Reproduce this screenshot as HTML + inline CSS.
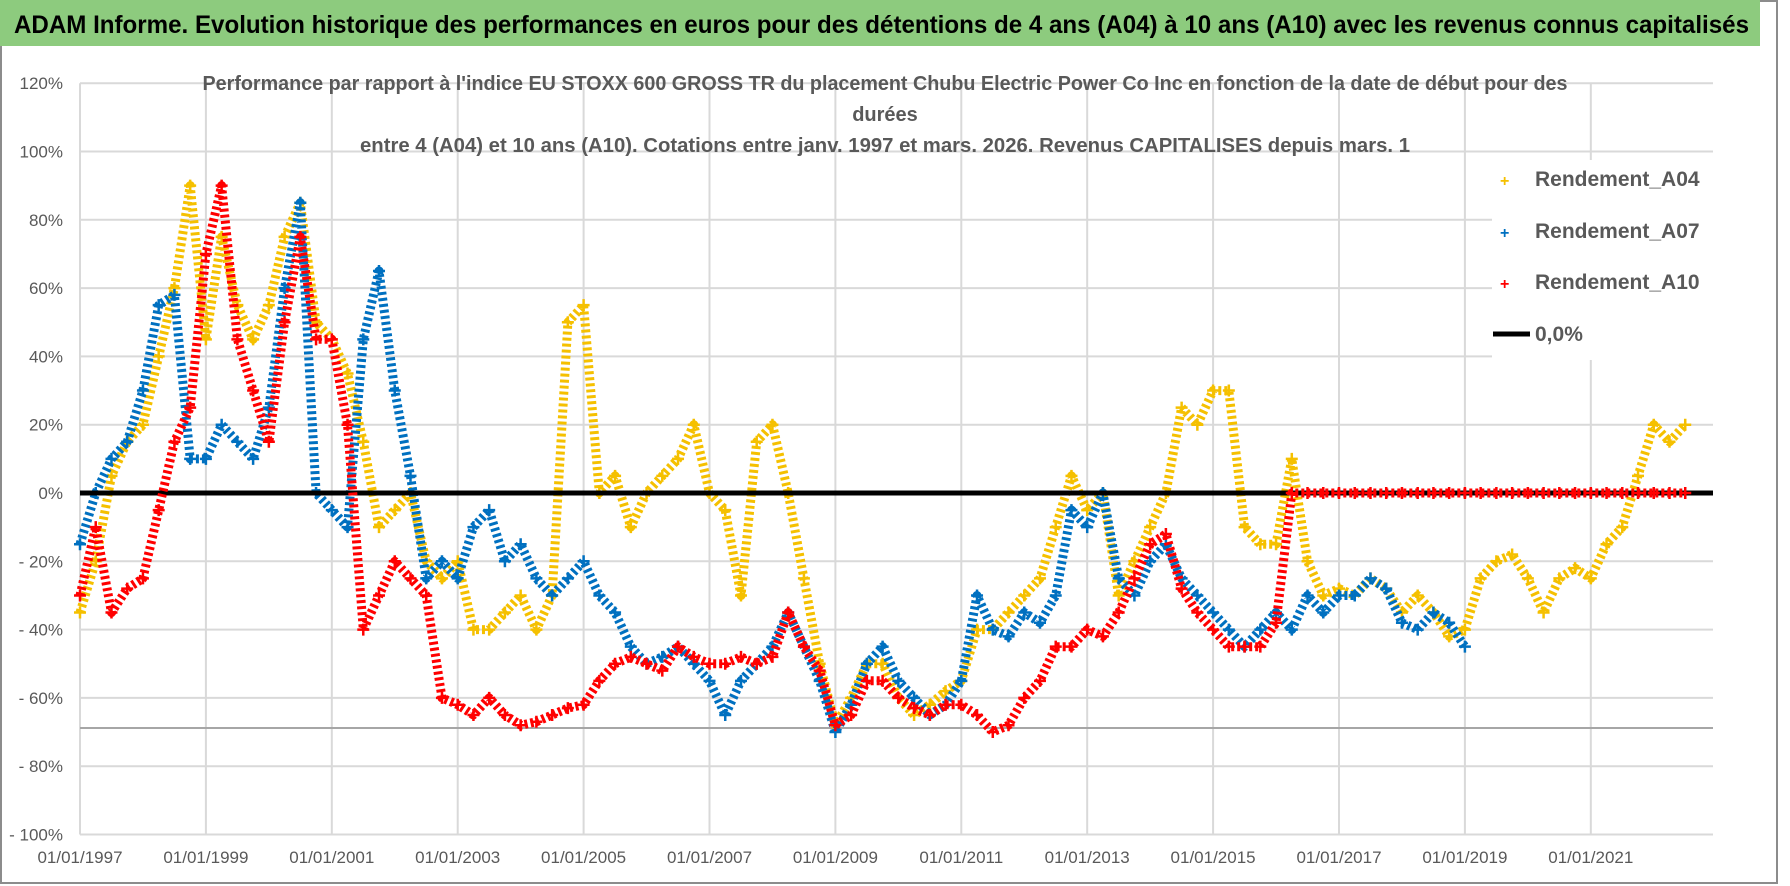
<!DOCTYPE html>
<html><head><meta charset="utf-8"><style>
html,body{margin:0;padding:0;background:#fff;}
svg{display:block;font-family:"Liberation Sans",sans-serif;}
</style></head><body>
<svg id="chart" width="1790" height="886" viewBox="0 0 1790 886">
<rect x="0" y="0" width="1790" height="886" fill="#fff"/>
<rect x="1" y="1" width="1776" height="882" fill="none" stroke="#8c8c8c" stroke-width="2"/>
<rect x="0" y="0" width="1760" height="46" fill="#8dcb7e"/>
<text x="14" y="33" font-size="25" font-weight="bold" fill="#000" textLength="1735" lengthAdjust="spacingAndGlyphs">ADAM Informe. Evolution historique des performances en euros pour des détentions de 4 ans (A04) à 10 ans (A10) avec les revenus connus capitalisés</text>
<g id="grid"></g>
<g id="series"></g>
<rect x="1492" y="160" width="250" height="200" fill="#fff"/>
<g font-size="20" font-weight="bold" fill="#595959" text-anchor="middle">
<text x="885" y="90" textLength="1365" lengthAdjust="spacingAndGlyphs">Performance par rapport à l'indice EU STOXX 600 GROSS TR  du placement Chubu Electric Power Co Inc en fonction de la date de début pour des</text>
<text x="885" y="121">durées</text>
<text x="885" y="152" textLength="1050" lengthAdjust="spacingAndGlyphs">entre 4 (A04) et 10 ans (A10). Cotations entre janv. 1997 et mars. 2026. Revenus CAPITALISES depuis mars. 1</text>
</g>
<g font-size="21" font-weight="bold" fill="#595959">
<text x="1500" y="186" fill="#f5c000" font-size="16">+</text><text x="1535" y="186">Rendement_A04</text>
<text x="1500" y="238" fill="#0070c0" font-size="16">+</text><text x="1535" y="238">Rendement_A07</text>
<text x="1500" y="289" fill="#ff0000" font-size="16">+</text><text x="1535" y="289">Rendement_A10</text>
<line x1="1493" y1="334" x2="1530" y2="334" stroke="#000" stroke-width="5"/><text x="1535" y="341">0,0%</text>
</g>
</svg>
<script>
const yTicks=[120,100,80,60,40,20,0,-20,-40,-60,-80,-100];
const yTickLabels=["120%","100%","80%","60%","40%","20%","0%","- 20%","- 40%","- 60%","- 80%","- 100%"];
const xTicks=[1997,1999,2001,2003,2005,2007,2009,2011,2013,2015,2017,2019,2021];
const xTickLabels=["01/01/1997","01/01/1999","01/01/2001","01/01/2003","01/01/2005","01/01/2007","01/01/2009","01/01/2011","01/01/2013","01/01/2015","01/01/2017","01/01/2019","01/01/2021"];
const startYear=1997, step=0.25;
const a04=[-35,-20,5,15,20,40,60,90,45,75,55,45,55,75,85,50,45,35,15,-10,-5,0,-20,-25,-20,-40,-40,-35,-30,-40,-30,50,55,0,5,-10,0,5,10,20,0,-5,-30,15,20,0,-25,-50,-68,-60,-50,-50,-60,-65,-62,-58,-55,-40,-40,-35,-30,-25,-10,5,-5,0,-30,-20,-10,0,25,20,30,30,-10,-15,-15,10,-20,-30,-28,-30,-25,-28,-35,-30,-35,-42,-40,-25,-20,-18,-25,-35,-25,-22,-25,-15,-10,5,20,15,20];
const a07=[-15,0,10,15,30,55,58,10,10,20,15,10,25,60,85,0,-5,-10,45,65,30,5,-25,-20,-25,-10,-5,-20,-15,-25,-30,-25,-20,-30,-35,-45,-50,-48,-45,-50,-55,-65,-55,-50,-45,-35,-45,-55,-70,-62,-50,-45,-55,-60,-65,-62,-55,-30,-40,-42,-35,-38,-30,-5,-10,0,-25,-30,-20,-15,-25,-30,-35,-40,-45,-40,-35,-40,-30,-35,-30,-30,-25,-28,-38,-40,-35,-38,-45];
const a10=[-30,-10,-35,-28,-25,-5,15,25,70,90,45,30,15,50,75,45,45,20,-40,-30,-20,-25,-30,-60,-62,-65,-60,-65,-68,-67,-65,-63,-62,-55,-50,-48,-50,-52,-45,-48,-50,-50,-48,-50,-48,-35,-45,-52,-68,-65,-55,-55,-60,-63,-65,-62,-62,-65,-70,-68,-60,-55,-45,-45,-40,-42,-35,-25,-15,-12,-28,-35,-40,-45,-45,-45,-38,0,0,0,0,0,0,0,0,0,0,0,0,0,0,0,0,0,0,0,0,0,0,0,0,0,0];
const NS="http://www.w3.org/2000/svg";
const X0=80, PX_YEAR=62.95, Y0=493, PX_PCT=3.415, PLOT_L=80, PLOT_R=1713;
function xs(t){return X0+(t-1997)*PX_YEAR;}
function ys(v){return Y0-v*PX_PCT;}
const grid=document.getElementById('grid');
yTicks.forEach((v,i)=>{
  const l=document.createElementNS(NS,'line');
  l.setAttribute('x1',PLOT_L);l.setAttribute('x2',PLOT_R);l.setAttribute('y1',ys(v));l.setAttribute('y2',ys(v));
  l.setAttribute('stroke','#d9d9d9');l.setAttribute('stroke-width','2');
  
  
  grid.appendChild(l);
  const t=document.createElementNS(NS,'text');
  t.setAttribute('x',63);t.setAttribute('y',ys(v)+6);t.setAttribute('text-anchor','end');
  t.setAttribute('font-size','17');t.setAttribute('fill','#595959');t.textContent=yTickLabels[i];
  
  
  grid.appendChild(t);
});
xTicks.forEach((v,i)=>{
  const l=document.createElementNS(NS,'line');
  l.setAttribute('x1',xs(v));l.setAttribute('x2',xs(v));l.setAttribute('y1',ys(120));l.setAttribute('y2',ys(-100));
  l.setAttribute('stroke','#d9d9d9');l.setAttribute('stroke-width','2');
  
  
  grid.appendChild(l);
  const t=document.createElementNS(NS,'text');
  t.setAttribute('x',xs(v));t.setAttribute('y',863);t.setAttribute('text-anchor','middle');
  t.setAttribute('font-size','17');t.setAttribute('fill','#595959');t.textContent=xTickLabels[i];
  
  
  grid.appendChild(t);
});
const ref=document.createElementNS(NS,'line');
ref.setAttribute('x1',PLOT_L);ref.setAttribute('x2',PLOT_R);ref.setAttribute('y1',728);ref.setAttribute('y2',728);
ref.setAttribute('stroke','#a6a6a6');ref.setAttribute('stroke-width','2');


grid.appendChild(ref);
const sg=document.getElementById('series');
const zero=document.createElementNS(NS,'line');
zero.setAttribute('x1',PLOT_L);zero.setAttribute('x2',PLOT_R);zero.setAttribute('y1',ys(0));zero.setAttribute('y2',ys(0));
zero.setAttribute('stroke','#000');zero.setAttribute('stroke-width','5');


function drawSeries(arr,color,name){
  const g=document.createElementNS(NS,'g');
  
  
  const pts=arr.map((v,i)=>xs(startYear+i*step).toFixed(1)+','+ys(v).toFixed(1)).join(' ');
  const pl=document.createElementNS(NS,'polyline');
  pl.setAttribute('points',pts);pl.setAttribute('fill','none');pl.setAttribute('stroke',color);
  pl.setAttribute('stroke-width','9');pl.setAttribute('stroke-linejoin','round');pl.setAttribute('stroke-dasharray','3 3');
  
  
  g.appendChild(pl);
  arr.forEach((v,i)=>{
    const x=xs(startYear+i*step), y=ys(v);
    const p=document.createElementNS(NS,'path');
    p.setAttribute('d',`M${x-6},${y}H${x+6}M${x},${y-6}V${y+6}`);
    p.setAttribute('stroke',color);p.setAttribute('stroke-width','2.5');
    
    
    g.appendChild(p);
  });
  sg.appendChild(g);
}
drawSeries(a04,'#f5c000','series-a04');
drawSeries(a07,'#0070c0','series-a07');
sg.appendChild(zero);
drawSeries(a10,'#ff0000','series-a10');
</script>
</body></html>
